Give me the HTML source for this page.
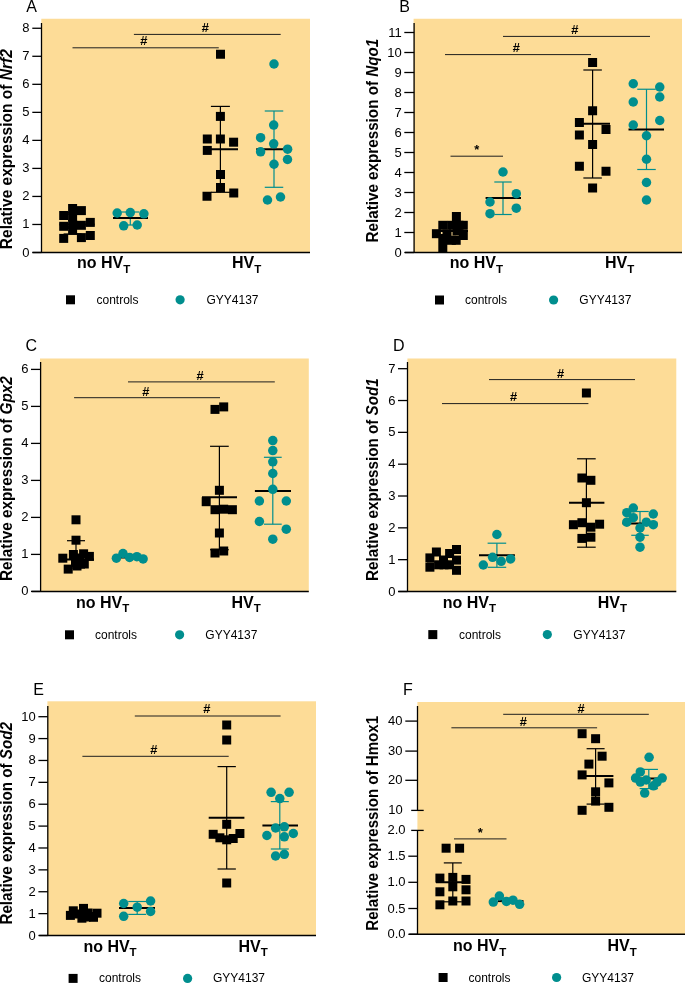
<!DOCTYPE html>
<html><head><meta charset="utf-8"><style>
html,body{margin:0;padding:0;background:#fff;}
svg{display:block;}
svg{will-change:transform;}
</style></head><body>
<svg width="685" height="983" viewBox="0 0 685 983">
<text x="26.30" y="11.70" font-family="Liberation Sans" font-size="16" text-anchor="start" font-weight="normal" font-style="normal" >A</text>
<rect x="41.30" y="18.75" width="268.70" height="233.75" fill="#FDDC97"/>
<line x1="41.50" y1="23.00" x2="41.50" y2="252.50" stroke="#000" stroke-width="1.3"/>
<line x1="32.30" y1="252.50" x2="41.50" y2="252.50" stroke="#000" stroke-width="1.3"/>
<text x="29.60" y="256.50" font-family="Liberation Sans" font-size="13" text-anchor="end" font-weight="normal" font-style="normal" >0</text>
<line x1="32.30" y1="224.47" x2="41.50" y2="224.47" stroke="#000" stroke-width="1.3"/>
<text x="29.60" y="228.47" font-family="Liberation Sans" font-size="13" text-anchor="end" font-weight="normal" font-style="normal" >1</text>
<line x1="32.30" y1="196.44" x2="41.50" y2="196.44" stroke="#000" stroke-width="1.3"/>
<text x="29.60" y="200.44" font-family="Liberation Sans" font-size="13" text-anchor="end" font-weight="normal" font-style="normal" >2</text>
<line x1="32.30" y1="168.41" x2="41.50" y2="168.41" stroke="#000" stroke-width="1.3"/>
<text x="29.60" y="172.41" font-family="Liberation Sans" font-size="13" text-anchor="end" font-weight="normal" font-style="normal" >3</text>
<line x1="32.30" y1="140.38" x2="41.50" y2="140.38" stroke="#000" stroke-width="1.3"/>
<text x="29.60" y="144.38" font-family="Liberation Sans" font-size="13" text-anchor="end" font-weight="normal" font-style="normal" >4</text>
<line x1="32.30" y1="112.35" x2="41.50" y2="112.35" stroke="#000" stroke-width="1.3"/>
<text x="29.60" y="116.35" font-family="Liberation Sans" font-size="13" text-anchor="end" font-weight="normal" font-style="normal" >5</text>
<line x1="32.30" y1="84.32" x2="41.50" y2="84.32" stroke="#000" stroke-width="1.3"/>
<text x="29.60" y="88.32" font-family="Liberation Sans" font-size="13" text-anchor="end" font-weight="normal" font-style="normal" >6</text>
<line x1="32.30" y1="56.29" x2="41.50" y2="56.29" stroke="#000" stroke-width="1.3"/>
<text x="29.60" y="60.29" font-family="Liberation Sans" font-size="13" text-anchor="end" font-weight="normal" font-style="normal" >7</text>
<line x1="32.30" y1="28.26" x2="41.50" y2="28.26" stroke="#000" stroke-width="1.3"/>
<text x="29.60" y="32.26" font-family="Liberation Sans" font-size="13" text-anchor="end" font-weight="normal" font-style="normal" >8</text>
<line x1="32.50" y1="252.50" x2="310.00" y2="252.50" stroke="#000" stroke-width="1.5"/>
<text transform="translate(12.00,149.20) rotate(-90) scale(1,1.06)" font-family="Liberation Sans" font-size="15" font-weight="bold" text-anchor="middle" textLength="200" lengthAdjust="spacingAndGlyphs">Relative expression of <tspan font-style="italic">Nrf2</tspan></text>
<line x1="72.50" y1="47.80" x2="218.75" y2="47.80" stroke="#1e1e1e" stroke-width="1.0"/>
<text x="143.70" y="45.45" font-family="Liberation Sans" font-size="13" text-anchor="middle" font-weight="bold" font-style="italic" >#</text>
<line x1="133.90" y1="34.40" x2="280.70" y2="34.40" stroke="#1e1e1e" stroke-width="1.0"/>
<text x="205.10" y="32.20" font-family="Liberation Sans" font-size="13" text-anchor="middle" font-weight="bold" font-style="italic" >#</text>
<line x1="72.60" y1="214.10" x2="72.60" y2="234.00" stroke="#000" stroke-width="1.2"/>
<line x1="63.60" y1="214.10" x2="81.60" y2="214.10" stroke="#000" stroke-width="1.2"/>
<line x1="63.60" y1="234.00" x2="81.60" y2="234.00" stroke="#000" stroke-width="1.2"/>
<line x1="59.50" y1="224.50" x2="94.50" y2="224.50" stroke="#000" stroke-width="2.0"/>
<rect x="68.10" y="204.00" width="9.00" height="9.00" fill="#000"/>
<rect x="76.90" y="206.10" width="9.00" height="9.00" fill="#000"/>
<rect x="59.20" y="211.00" width="9.00" height="9.00" fill="#000"/>
<rect x="85.80" y="217.90" width="9.00" height="9.00" fill="#000"/>
<rect x="59.20" y="221.80" width="9.00" height="9.00" fill="#000"/>
<rect x="76.90" y="220.80" width="9.00" height="9.00" fill="#000"/>
<rect x="59.20" y="233.90" width="9.00" height="9.00" fill="#000"/>
<rect x="76.90" y="233.10" width="9.00" height="9.00" fill="#000"/>
<rect x="85.80" y="231.00" width="9.00" height="9.00" fill="#000"/>
<rect x="68.10" y="212.00" width="9.00" height="9.00" fill="#000"/>
<rect x="68.10" y="220.00" width="9.00" height="9.00" fill="#000"/>
<rect x="68.10" y="225.90" width="9.00" height="9.00" fill="#000"/>
<line x1="130.30" y1="212.00" x2="130.30" y2="225.00" stroke="#008E8E" stroke-width="1.2"/>
<line x1="121.30" y1="212.00" x2="139.30" y2="212.00" stroke="#008E8E" stroke-width="1.2"/>
<line x1="121.30" y1="225.00" x2="139.30" y2="225.00" stroke="#008E8E" stroke-width="1.2"/>
<line x1="113.00" y1="218.00" x2="148.00" y2="218.00" stroke="#000" stroke-width="2.0"/>
<circle cx="117.20" cy="213.00" r="4.75" fill="#008E8E"/>
<circle cx="130.30" cy="212.60" r="4.75" fill="#008E8E"/>
<circle cx="143.90" cy="213.80" r="4.75" fill="#008E8E"/>
<circle cx="123.70" cy="225.80" r="4.75" fill="#008E8E"/>
<circle cx="137.20" cy="225.00" r="4.75" fill="#008E8E"/>
<line x1="220.40" y1="106.40" x2="220.40" y2="192.30" stroke="#000" stroke-width="1.2"/>
<line x1="210.90" y1="106.40" x2="229.90" y2="106.40" stroke="#000" stroke-width="1.2"/>
<line x1="210.90" y1="192.30" x2="229.90" y2="192.30" stroke="#000" stroke-width="1.2"/>
<line x1="203.00" y1="149.20" x2="238.00" y2="149.20" stroke="#000" stroke-width="2.0"/>
<rect x="216.00" y="49.75" width="9.00" height="9.00" fill="#000"/>
<rect x="215.90" y="111.90" width="9.00" height="9.00" fill="#000"/>
<rect x="202.80" y="134.50" width="9.00" height="9.00" fill="#000"/>
<rect x="215.90" y="134.50" width="9.00" height="9.00" fill="#000"/>
<rect x="229.10" y="137.70" width="9.00" height="9.00" fill="#000"/>
<rect x="202.80" y="145.90" width="9.00" height="9.00" fill="#000"/>
<rect x="216.00" y="170.00" width="9.00" height="9.00" fill="#000"/>
<rect x="216.00" y="183.00" width="9.00" height="9.00" fill="#000"/>
<rect x="202.50" y="191.75" width="9.00" height="9.00" fill="#000"/>
<rect x="229.25" y="188.50" width="9.00" height="9.00" fill="#000"/>
<line x1="274.00" y1="111.00" x2="274.00" y2="187.30" stroke="#008E8E" stroke-width="1.2"/>
<line x1="264.75" y1="111.00" x2="283.25" y2="111.00" stroke="#008E8E" stroke-width="1.2"/>
<line x1="264.75" y1="187.30" x2="283.25" y2="187.30" stroke="#008E8E" stroke-width="1.2"/>
<line x1="256.20" y1="149.20" x2="291.20" y2="149.20" stroke="#000" stroke-width="2.0"/>
<circle cx="274.00" cy="64.00" r="4.75" fill="#008E8E"/>
<circle cx="273.70" cy="125.10" r="4.75" fill="#008E8E"/>
<circle cx="260.60" cy="137.70" r="4.75" fill="#008E8E"/>
<circle cx="273.70" cy="143.80" r="4.75" fill="#008E8E"/>
<circle cx="287.60" cy="149.20" r="4.75" fill="#008E8E"/>
<circle cx="260.60" cy="151.80" r="4.75" fill="#008E8E"/>
<circle cx="287.50" cy="159.50" r="4.75" fill="#008E8E"/>
<circle cx="274.00" cy="164.25" r="4.75" fill="#008E8E"/>
<circle cx="267.50" cy="200.00" r="4.75" fill="#008E8E"/>
<circle cx="280.50" cy="197.00" r="4.75" fill="#008E8E"/>
<text x="77.00" y="268.10" font-family="Liberation Sans" font-size="16" font-weight="bold">no HV<tspan font-size="11.5" dy="4.7">T</tspan></text>
<text x="232.00" y="268.10" font-family="Liberation Sans" font-size="16" font-weight="bold">HV<tspan font-size="11.5" dy="4.7">T</tspan></text>
<rect x="66.00" y="295.30" width="9.00" height="9.00" fill="#000"/>
<text x="96.50" y="303.80" font-family="Liberation Sans" font-size="12" text-anchor="start" font-weight="normal" font-style="normal" >controls</text>
<circle cx="180.10" cy="299.80" r="4.6" fill="#008E8E"/>
<text x="206.50" y="303.80" font-family="Liberation Sans" font-size="12" text-anchor="start" font-weight="normal" font-style="normal" >GYY4137</text>
<text x="399.30" y="11.70" font-family="Liberation Sans" font-size="16" text-anchor="start" font-weight="normal" font-style="normal" >B</text>
<rect x="413.60" y="18.75" width="268.40" height="233.75" fill="#FDDC97"/>
<line x1="414.10" y1="23.00" x2="414.10" y2="252.50" stroke="#000" stroke-width="1.3"/>
<line x1="404.30" y1="252.50" x2="414.10" y2="252.50" stroke="#000" stroke-width="1.3"/>
<text x="401.80" y="256.50" font-family="Liberation Sans" font-size="13" text-anchor="end" font-weight="normal" font-style="normal" >0</text>
<line x1="404.30" y1="232.50" x2="414.10" y2="232.50" stroke="#000" stroke-width="1.3"/>
<text x="401.80" y="236.50" font-family="Liberation Sans" font-size="13" text-anchor="end" font-weight="normal" font-style="normal" >1</text>
<line x1="404.30" y1="212.50" x2="414.10" y2="212.50" stroke="#000" stroke-width="1.3"/>
<text x="401.80" y="216.50" font-family="Liberation Sans" font-size="13" text-anchor="end" font-weight="normal" font-style="normal" >2</text>
<line x1="404.30" y1="192.50" x2="414.10" y2="192.50" stroke="#000" stroke-width="1.3"/>
<text x="401.80" y="196.50" font-family="Liberation Sans" font-size="13" text-anchor="end" font-weight="normal" font-style="normal" >3</text>
<line x1="404.30" y1="172.50" x2="414.10" y2="172.50" stroke="#000" stroke-width="1.3"/>
<text x="401.80" y="176.50" font-family="Liberation Sans" font-size="13" text-anchor="end" font-weight="normal" font-style="normal" >4</text>
<line x1="404.30" y1="152.50" x2="414.10" y2="152.50" stroke="#000" stroke-width="1.3"/>
<text x="401.80" y="156.50" font-family="Liberation Sans" font-size="13" text-anchor="end" font-weight="normal" font-style="normal" >5</text>
<line x1="404.30" y1="132.50" x2="414.10" y2="132.50" stroke="#000" stroke-width="1.3"/>
<text x="401.80" y="136.50" font-family="Liberation Sans" font-size="13" text-anchor="end" font-weight="normal" font-style="normal" >6</text>
<line x1="404.30" y1="112.50" x2="414.10" y2="112.50" stroke="#000" stroke-width="1.3"/>
<text x="401.80" y="116.50" font-family="Liberation Sans" font-size="13" text-anchor="end" font-weight="normal" font-style="normal" >7</text>
<line x1="404.30" y1="92.50" x2="414.10" y2="92.50" stroke="#000" stroke-width="1.3"/>
<text x="401.80" y="96.50" font-family="Liberation Sans" font-size="13" text-anchor="end" font-weight="normal" font-style="normal" >8</text>
<line x1="404.30" y1="72.50" x2="414.10" y2="72.50" stroke="#000" stroke-width="1.3"/>
<text x="401.80" y="76.50" font-family="Liberation Sans" font-size="13" text-anchor="end" font-weight="normal" font-style="normal" >9</text>
<line x1="404.30" y1="52.50" x2="414.10" y2="52.50" stroke="#000" stroke-width="1.3"/>
<text x="401.80" y="56.50" font-family="Liberation Sans" font-size="13" text-anchor="end" font-weight="normal" font-style="normal" >10</text>
<line x1="404.30" y1="32.50" x2="414.10" y2="32.50" stroke="#000" stroke-width="1.3"/>
<text x="401.80" y="36.50" font-family="Liberation Sans" font-size="13" text-anchor="end" font-weight="normal" font-style="normal" >11</text>
<line x1="405.00" y1="252.50" x2="682.00" y2="252.50" stroke="#000" stroke-width="1.5"/>
<text transform="translate(377.80,140.60) rotate(-90) scale(1,1.06)" font-family="Liberation Sans" font-size="15" font-weight="bold" text-anchor="middle" textLength="203.7" lengthAdjust="spacingAndGlyphs">Relative expression of <tspan font-style="italic">Nqo1</tspan></text>
<line x1="445.00" y1="54.60" x2="591.00" y2="54.60" stroke="#1e1e1e" stroke-width="1.0"/>
<text x="516.10" y="52.45" font-family="Liberation Sans" font-size="13" text-anchor="middle" font-weight="bold" font-style="italic" >#</text>
<line x1="503.00" y1="36.40" x2="650.00" y2="36.40" stroke="#1e1e1e" stroke-width="1.0"/>
<text x="574.70" y="33.80" font-family="Liberation Sans" font-size="13" text-anchor="middle" font-weight="bold" font-style="italic" >#</text>
<line x1="450.50" y1="156.20" x2="503.00" y2="156.20" stroke="#1e1e1e" stroke-width="1.0"/>
<text x="476.90" y="154.00" font-family="Liberation Sans" font-size="13" text-anchor="middle" font-weight="bold" font-style="normal" >*</text>
<line x1="450.00" y1="222.00" x2="450.00" y2="240.00" stroke="#000" stroke-width="1.2"/>
<line x1="441.00" y1="222.00" x2="459.00" y2="222.00" stroke="#000" stroke-width="1.2"/>
<line x1="441.00" y1="240.00" x2="459.00" y2="240.00" stroke="#000" stroke-width="1.2"/>
<line x1="433.00" y1="231.00" x2="468.00" y2="231.00" stroke="#000" stroke-width="2.0"/>
<rect x="451.90" y="212.00" width="9.00" height="9.00" fill="#000"/>
<rect x="438.30" y="220.80" width="9.00" height="9.00" fill="#000"/>
<rect x="447.10" y="220.80" width="9.00" height="9.00" fill="#000"/>
<rect x="454.50" y="220.80" width="9.00" height="9.00" fill="#000"/>
<rect x="458.80" y="220.80" width="9.00" height="9.00" fill="#000"/>
<rect x="431.90" y="229.20" width="9.00" height="9.00" fill="#000"/>
<rect x="458.80" y="231.00" width="9.00" height="9.00" fill="#000"/>
<rect x="452.50" y="226.50" width="9.00" height="9.00" fill="#000"/>
<rect x="442.50" y="229.50" width="9.00" height="9.00" fill="#000"/>
<rect x="446.90" y="235.80" width="9.00" height="9.00" fill="#000"/>
<rect x="451.70" y="235.80" width="9.00" height="9.00" fill="#000"/>
<rect x="438.30" y="234.00" width="9.00" height="9.00" fill="#000"/>
<rect x="438.30" y="243.00" width="9.00" height="9.00" fill="#000"/>
<line x1="503.00" y1="182.00" x2="503.00" y2="214.50" stroke="#008E8E" stroke-width="1.2"/>
<line x1="494.30" y1="182.00" x2="511.70" y2="182.00" stroke="#008E8E" stroke-width="1.2"/>
<line x1="494.30" y1="214.50" x2="511.70" y2="214.50" stroke="#008E8E" stroke-width="1.2"/>
<line x1="485.60" y1="198.00" x2="521.00" y2="198.00" stroke="#000" stroke-width="2.0"/>
<circle cx="503.00" cy="172.00" r="4.75" fill="#008E8E"/>
<circle cx="516.30" cy="193.70" r="4.75" fill="#008E8E"/>
<circle cx="490.00" cy="202.00" r="4.75" fill="#008E8E"/>
<circle cx="490.00" cy="213.70" r="4.75" fill="#008E8E"/>
<circle cx="516.30" cy="208.20" r="4.75" fill="#008E8E"/>
<line x1="592.60" y1="70.00" x2="592.60" y2="178.00" stroke="#000" stroke-width="1.2"/>
<line x1="583.35" y1="70.00" x2="601.85" y2="70.00" stroke="#000" stroke-width="1.2"/>
<line x1="583.35" y1="178.00" x2="601.85" y2="178.00" stroke="#000" stroke-width="1.2"/>
<line x1="578.60" y1="123.75" x2="610.00" y2="123.75" stroke="#000" stroke-width="2.0"/>
<rect x="588.10" y="58.00" width="9.00" height="9.00" fill="#000"/>
<rect x="588.10" y="106.25" width="9.00" height="9.00" fill="#000"/>
<rect x="574.90" y="118.00" width="9.00" height="9.00" fill="#000"/>
<rect x="601.50" y="125.00" width="9.00" height="9.00" fill="#000"/>
<rect x="574.90" y="130.50" width="9.00" height="9.00" fill="#000"/>
<rect x="588.10" y="140.00" width="9.00" height="9.00" fill="#000"/>
<rect x="574.90" y="161.75" width="9.00" height="9.00" fill="#000"/>
<rect x="601.50" y="166.75" width="9.00" height="9.00" fill="#000"/>
<rect x="588.10" y="183.50" width="9.00" height="9.00" fill="#000"/>
<line x1="646.50" y1="89.25" x2="646.50" y2="169.50" stroke="#008E8E" stroke-width="1.2"/>
<line x1="637.25" y1="89.25" x2="655.75" y2="89.25" stroke="#008E8E" stroke-width="1.2"/>
<line x1="637.25" y1="169.50" x2="655.75" y2="169.50" stroke="#008E8E" stroke-width="1.2"/>
<line x1="628.50" y1="129.50" x2="664.00" y2="129.50" stroke="#000" stroke-width="2.0"/>
<circle cx="633.25" cy="83.75" r="4.75" fill="#008E8E"/>
<circle cx="659.75" cy="87.00" r="4.75" fill="#008E8E"/>
<circle cx="659.75" cy="97.00" r="4.75" fill="#008E8E"/>
<circle cx="633.25" cy="102.00" r="4.75" fill="#008E8E"/>
<circle cx="659.75" cy="120.50" r="4.75" fill="#008E8E"/>
<circle cx="633.25" cy="125.00" r="4.75" fill="#008E8E"/>
<circle cx="646.50" cy="135.75" r="4.75" fill="#008E8E"/>
<circle cx="646.50" cy="159.25" r="4.75" fill="#008E8E"/>
<circle cx="646.50" cy="182.50" r="4.75" fill="#008E8E"/>
<circle cx="646.50" cy="200.00" r="4.75" fill="#008E8E"/>
<text x="449.70" y="268.10" font-family="Liberation Sans" font-size="16" font-weight="bold">no HV<tspan font-size="11.5" dy="4.7">T</tspan></text>
<text x="605.00" y="268.10" font-family="Liberation Sans" font-size="16" font-weight="bold">HV<tspan font-size="11.5" dy="4.7">T</tspan></text>
<rect x="435.00" y="295.50" width="9.00" height="9.00" fill="#000"/>
<text x="465.00" y="304.00" font-family="Liberation Sans" font-size="12" text-anchor="start" font-weight="normal" font-style="normal" >controls</text>
<circle cx="553.60" cy="300.00" r="4.6" fill="#008E8E"/>
<text x="579.30" y="304.00" font-family="Liberation Sans" font-size="12" text-anchor="start" font-weight="normal" font-style="normal" >GYY4137</text>
<text x="25.60" y="351.00" font-family="Liberation Sans" font-size="16" text-anchor="start" font-weight="normal" font-style="normal" >C</text>
<rect x="40.00" y="358.50" width="268.80" height="233.00" fill="#FDDC97"/>
<line x1="40.60" y1="362.00" x2="40.60" y2="591.40" stroke="#000" stroke-width="1.3"/>
<line x1="31.00" y1="591.40" x2="40.60" y2="591.40" stroke="#000" stroke-width="1.3"/>
<text x="28.60" y="595.40" font-family="Liberation Sans" font-size="13" text-anchor="end" font-weight="normal" font-style="normal" >0</text>
<line x1="31.00" y1="554.40" x2="40.60" y2="554.40" stroke="#000" stroke-width="1.3"/>
<text x="28.60" y="558.40" font-family="Liberation Sans" font-size="13" text-anchor="end" font-weight="normal" font-style="normal" >1</text>
<line x1="31.00" y1="517.40" x2="40.60" y2="517.40" stroke="#000" stroke-width="1.3"/>
<text x="28.60" y="521.40" font-family="Liberation Sans" font-size="13" text-anchor="end" font-weight="normal" font-style="normal" >2</text>
<line x1="31.00" y1="480.40" x2="40.60" y2="480.40" stroke="#000" stroke-width="1.3"/>
<text x="28.60" y="484.40" font-family="Liberation Sans" font-size="13" text-anchor="end" font-weight="normal" font-style="normal" >3</text>
<line x1="31.00" y1="443.40" x2="40.60" y2="443.40" stroke="#000" stroke-width="1.3"/>
<text x="28.60" y="447.40" font-family="Liberation Sans" font-size="13" text-anchor="end" font-weight="normal" font-style="normal" >4</text>
<line x1="31.00" y1="406.40" x2="40.60" y2="406.40" stroke="#000" stroke-width="1.3"/>
<text x="28.60" y="410.40" font-family="Liberation Sans" font-size="13" text-anchor="end" font-weight="normal" font-style="normal" >5</text>
<line x1="31.00" y1="369.40" x2="40.60" y2="369.40" stroke="#000" stroke-width="1.3"/>
<text x="28.60" y="373.40" font-family="Liberation Sans" font-size="13" text-anchor="end" font-weight="normal" font-style="normal" >6</text>
<line x1="31.70" y1="591.40" x2="308.80" y2="591.40" stroke="#000" stroke-width="1.5"/>
<text transform="translate(12.00,478.60) rotate(-90) scale(1,1.06)" font-family="Liberation Sans" font-size="15" font-weight="bold" text-anchor="middle" textLength="204.8" lengthAdjust="spacingAndGlyphs">Relative expression of <tspan font-style="italic">Gpx2</tspan></text>
<line x1="74.10" y1="397.70" x2="220.00" y2="397.70" stroke="#1e1e1e" stroke-width="1.0"/>
<text x="145.50" y="395.70" font-family="Liberation Sans" font-size="13" text-anchor="middle" font-weight="bold" font-style="italic" >#</text>
<line x1="128.00" y1="381.90" x2="274.80" y2="381.90" stroke="#1e1e1e" stroke-width="1.0"/>
<text x="199.80" y="379.60" font-family="Liberation Sans" font-size="13" text-anchor="middle" font-weight="bold" font-style="italic" >#</text>
<line x1="76.00" y1="540.70" x2="76.00" y2="568.00" stroke="#000" stroke-width="1.2"/>
<line x1="67.00" y1="540.70" x2="85.00" y2="540.70" stroke="#000" stroke-width="1.2"/>
<line x1="67.00" y1="568.00" x2="85.00" y2="568.00" stroke="#000" stroke-width="1.2"/>
<line x1="59.00" y1="559.60" x2="94.00" y2="559.60" stroke="#000" stroke-width="2.0"/>
<rect x="71.50" y="515.30" width="9.00" height="9.00" fill="#000"/>
<rect x="71.50" y="535.70" width="9.00" height="9.00" fill="#000"/>
<rect x="58.30" y="553.70" width="9.00" height="9.00" fill="#000"/>
<rect x="68.90" y="550.00" width="9.00" height="9.00" fill="#000"/>
<rect x="79.10" y="549.30" width="9.00" height="9.00" fill="#000"/>
<rect x="84.90" y="551.90" width="9.00" height="9.00" fill="#000"/>
<rect x="71.00" y="558.10" width="9.00" height="9.00" fill="#000"/>
<rect x="79.80" y="559.50" width="9.00" height="9.00" fill="#000"/>
<rect x="63.70" y="564.60" width="9.00" height="9.00" fill="#000"/>
<rect x="74.50" y="553.50" width="9.00" height="9.00" fill="#000"/>
<rect x="75.50" y="556.50" width="9.00" height="9.00" fill="#000"/>
<rect x="72.50" y="561.50" width="9.00" height="9.00" fill="#000"/>
<line x1="117.00" y1="557.50" x2="143.00" y2="557.50" stroke="#000" stroke-width="2.0"/>
<circle cx="116.40" cy="558.20" r="4.75" fill="#008E8E"/>
<circle cx="123.00" cy="553.50" r="4.75" fill="#008E8E"/>
<circle cx="129.60" cy="557.40" r="4.75" fill="#008E8E"/>
<circle cx="136.90" cy="556.70" r="4.75" fill="#008E8E"/>
<circle cx="143.10" cy="558.90" r="4.75" fill="#008E8E"/>
<line x1="219.40" y1="446.30" x2="219.40" y2="549.70" stroke="#000" stroke-width="1.2"/>
<line x1="210.05" y1="446.30" x2="228.75" y2="446.30" stroke="#000" stroke-width="1.2"/>
<line x1="210.05" y1="549.70" x2="228.75" y2="549.70" stroke="#000" stroke-width="1.2"/>
<line x1="202.00" y1="497.30" x2="237.00" y2="497.30" stroke="#000" stroke-width="2.0"/>
<rect x="210.50" y="404.90" width="9.00" height="9.00" fill="#000"/>
<rect x="219.20" y="402.40" width="9.00" height="9.00" fill="#000"/>
<rect x="214.90" y="485.80" width="9.00" height="9.00" fill="#000"/>
<rect x="201.70" y="497.20" width="9.00" height="9.00" fill="#000"/>
<rect x="210.50" y="505.20" width="9.00" height="9.00" fill="#000"/>
<rect x="219.20" y="504.70" width="9.00" height="9.00" fill="#000"/>
<rect x="227.90" y="505.20" width="9.00" height="9.00" fill="#000"/>
<rect x="214.90" y="528.50" width="9.00" height="9.00" fill="#000"/>
<rect x="210.50" y="548.50" width="9.00" height="9.00" fill="#000"/>
<rect x="219.20" y="546.50" width="9.00" height="9.00" fill="#000"/>
<line x1="272.80" y1="457.30" x2="272.80" y2="524.20" stroke="#008E8E" stroke-width="1.2"/>
<line x1="263.90" y1="457.30" x2="281.70" y2="457.30" stroke="#008E8E" stroke-width="1.2"/>
<line x1="263.90" y1="524.20" x2="281.70" y2="524.20" stroke="#008E8E" stroke-width="1.2"/>
<line x1="254.90" y1="491.00" x2="291.00" y2="491.00" stroke="#000" stroke-width="2.0"/>
<circle cx="272.80" cy="440.60" r="4.75" fill="#008E8E"/>
<circle cx="272.80" cy="450.60" r="4.75" fill="#008E8E"/>
<circle cx="272.80" cy="461.80" r="4.75" fill="#008E8E"/>
<circle cx="272.80" cy="473.50" r="4.75" fill="#008E8E"/>
<circle cx="272.80" cy="489.30" r="4.75" fill="#008E8E"/>
<circle cx="259.40" cy="501.00" r="4.75" fill="#008E8E"/>
<circle cx="286.30" cy="501.00" r="4.75" fill="#008E8E"/>
<circle cx="259.40" cy="521.50" r="4.75" fill="#008E8E"/>
<circle cx="286.30" cy="529.20" r="4.75" fill="#008E8E"/>
<circle cx="272.80" cy="539.20" r="4.75" fill="#008E8E"/>
<text x="76.00" y="607.60" font-family="Liberation Sans" font-size="16" font-weight="bold">no HV<tspan font-size="11.5" dy="4.7">T</tspan></text>
<text x="231.40" y="607.60" font-family="Liberation Sans" font-size="16" font-weight="bold">HV<tspan font-size="11.5" dy="4.7">T</tspan></text>
<rect x="65.00" y="630.30" width="9.00" height="9.00" fill="#000"/>
<text x="95.00" y="638.80" font-family="Liberation Sans" font-size="12" text-anchor="start" font-weight="normal" font-style="normal" >controls</text>
<circle cx="179.60" cy="634.80" r="4.6" fill="#008E8E"/>
<text x="205.30" y="638.80" font-family="Liberation Sans" font-size="12" text-anchor="start" font-weight="normal" font-style="normal" >GYY4137</text>
<text x="393.00" y="351.00" font-family="Liberation Sans" font-size="16" text-anchor="start" font-weight="normal" font-style="normal" >D</text>
<rect x="407.40" y="358.50" width="268.90" height="233.00" fill="#FDDC97"/>
<line x1="407.50" y1="362.00" x2="407.50" y2="591.50" stroke="#000" stroke-width="1.3"/>
<line x1="398.00" y1="591.50" x2="407.50" y2="591.50" stroke="#000" stroke-width="1.3"/>
<text x="395.50" y="595.50" font-family="Liberation Sans" font-size="13" text-anchor="end" font-weight="normal" font-style="normal" >0</text>
<line x1="398.00" y1="559.67" x2="407.50" y2="559.67" stroke="#000" stroke-width="1.3"/>
<text x="395.50" y="563.67" font-family="Liberation Sans" font-size="13" text-anchor="end" font-weight="normal" font-style="normal" >1</text>
<line x1="398.00" y1="527.84" x2="407.50" y2="527.84" stroke="#000" stroke-width="1.3"/>
<text x="395.50" y="531.84" font-family="Liberation Sans" font-size="13" text-anchor="end" font-weight="normal" font-style="normal" >2</text>
<line x1="398.00" y1="496.01" x2="407.50" y2="496.01" stroke="#000" stroke-width="1.3"/>
<text x="395.50" y="500.01" font-family="Liberation Sans" font-size="13" text-anchor="end" font-weight="normal" font-style="normal" >3</text>
<line x1="398.00" y1="464.18" x2="407.50" y2="464.18" stroke="#000" stroke-width="1.3"/>
<text x="395.50" y="468.18" font-family="Liberation Sans" font-size="13" text-anchor="end" font-weight="normal" font-style="normal" >4</text>
<line x1="398.00" y1="432.35" x2="407.50" y2="432.35" stroke="#000" stroke-width="1.3"/>
<text x="395.50" y="436.35" font-family="Liberation Sans" font-size="13" text-anchor="end" font-weight="normal" font-style="normal" >5</text>
<line x1="398.00" y1="400.52" x2="407.50" y2="400.52" stroke="#000" stroke-width="1.3"/>
<text x="395.50" y="404.52" font-family="Liberation Sans" font-size="13" text-anchor="end" font-weight="normal" font-style="normal" >6</text>
<line x1="398.00" y1="368.69" x2="407.50" y2="368.69" stroke="#000" stroke-width="1.3"/>
<text x="395.50" y="372.69" font-family="Liberation Sans" font-size="13" text-anchor="end" font-weight="normal" font-style="normal" >7</text>
<line x1="398.40" y1="591.50" x2="676.30" y2="591.50" stroke="#000" stroke-width="1.5"/>
<text transform="translate(377.80,479.60) rotate(-90) scale(1,1.06)" font-family="Liberation Sans" font-size="15" font-weight="bold" text-anchor="middle" textLength="202.7" lengthAdjust="spacingAndGlyphs">Relative expression of <tspan font-style="italic">Sod1</tspan></text>
<line x1="442.00" y1="403.60" x2="588.40" y2="403.60" stroke="#1e1e1e" stroke-width="1.0"/>
<text x="513.30" y="401.40" font-family="Liberation Sans" font-size="13" text-anchor="middle" font-weight="bold" font-style="italic" >#</text>
<line x1="489.00" y1="379.60" x2="635.00" y2="379.60" stroke="#1e1e1e" stroke-width="1.0"/>
<text x="560.40" y="377.50" font-family="Liberation Sans" font-size="13" text-anchor="middle" font-weight="bold" font-style="italic" >#</text>
<line x1="427.00" y1="562.00" x2="461.00" y2="562.00" stroke="#000" stroke-width="1.2"/>
<rect x="452.00" y="545.00" width="9.00" height="9.00" fill="#000"/>
<rect x="452.00" y="555.60" width="9.00" height="9.00" fill="#000"/>
<rect x="452.00" y="565.80" width="9.00" height="9.00" fill="#000"/>
<rect x="425.40" y="553.40" width="9.00" height="9.00" fill="#000"/>
<rect x="425.40" y="562.70" width="9.00" height="9.00" fill="#000"/>
<rect x="431.90" y="547.50" width="9.00" height="9.00" fill="#000"/>
<rect x="445.10" y="549.00" width="9.00" height="9.00" fill="#000"/>
<rect x="439.00" y="555.50" width="9.00" height="9.00" fill="#000"/>
<rect x="434.10" y="560.30" width="9.00" height="9.00" fill="#000"/>
<rect x="439.50" y="560.30" width="9.00" height="9.00" fill="#000"/>
<rect x="445.00" y="560.30" width="9.00" height="9.00" fill="#000"/>
<line x1="496.90" y1="543.20" x2="496.90" y2="567.30" stroke="#008E8E" stroke-width="1.2"/>
<line x1="487.60" y1="543.20" x2="506.20" y2="543.20" stroke="#008E8E" stroke-width="1.2"/>
<line x1="487.60" y1="567.30" x2="506.20" y2="567.30" stroke="#008E8E" stroke-width="1.2"/>
<line x1="479.00" y1="555.20" x2="514.90" y2="555.20" stroke="#000" stroke-width="2.0"/>
<circle cx="496.90" cy="534.50" r="4.75" fill="#008E8E"/>
<circle cx="492.60" cy="557.30" r="4.75" fill="#008E8E"/>
<circle cx="501.20" cy="561.30" r="4.75" fill="#008E8E"/>
<circle cx="510.60" cy="558.90" r="4.75" fill="#008E8E"/>
<circle cx="483.30" cy="565.00" r="4.75" fill="#008E8E"/>
<line x1="586.40" y1="458.80" x2="586.40" y2="547.20" stroke="#000" stroke-width="1.2"/>
<line x1="577.10" y1="458.80" x2="595.70" y2="458.80" stroke="#000" stroke-width="1.2"/>
<line x1="577.10" y1="547.20" x2="595.70" y2="547.20" stroke="#000" stroke-width="1.2"/>
<line x1="569.00" y1="502.70" x2="604.40" y2="502.70" stroke="#000" stroke-width="2.0"/>
<rect x="581.90" y="388.50" width="9.00" height="9.00" fill="#000"/>
<rect x="577.40" y="473.50" width="9.00" height="9.00" fill="#000"/>
<rect x="586.40" y="475.80" width="9.00" height="9.00" fill="#000"/>
<rect x="581.90" y="498.20" width="9.00" height="9.00" fill="#000"/>
<rect x="568.90" y="520.20" width="9.00" height="9.00" fill="#000"/>
<rect x="577.40" y="518.20" width="9.00" height="9.00" fill="#000"/>
<rect x="586.40" y="522.70" width="9.00" height="9.00" fill="#000"/>
<rect x="595.10" y="519.70" width="9.00" height="9.00" fill="#000"/>
<rect x="577.40" y="533.90" width="9.00" height="9.00" fill="#000"/>
<rect x="586.40" y="532.70" width="9.00" height="9.00" fill="#000"/>
<line x1="640.00" y1="511.50" x2="640.00" y2="535.30" stroke="#008E8E" stroke-width="1.2"/>
<line x1="631.25" y1="511.50" x2="648.75" y2="511.50" stroke="#008E8E" stroke-width="1.2"/>
<line x1="631.25" y1="535.30" x2="648.75" y2="535.30" stroke="#008E8E" stroke-width="1.2"/>
<line x1="622.50" y1="523.50" x2="657.50" y2="523.50" stroke="#000" stroke-width="2.0"/>
<circle cx="626.80" cy="512.70" r="4.75" fill="#008E8E"/>
<circle cx="633.30" cy="508.00" r="4.75" fill="#008E8E"/>
<circle cx="633.30" cy="517.70" r="4.75" fill="#008E8E"/>
<circle cx="653.30" cy="514.00" r="4.75" fill="#008E8E"/>
<circle cx="626.80" cy="522.20" r="4.75" fill="#008E8E"/>
<circle cx="646.30" cy="522.20" r="4.75" fill="#008E8E"/>
<circle cx="653.30" cy="524.70" r="4.75" fill="#008E8E"/>
<circle cx="640.00" cy="528.00" r="4.75" fill="#008E8E"/>
<circle cx="640.00" cy="537.20" r="4.75" fill="#008E8E"/>
<circle cx="640.00" cy="547.20" r="4.75" fill="#008E8E"/>
<text x="442.70" y="607.60" font-family="Liberation Sans" font-size="16" font-weight="bold">no HV<tspan font-size="11.5" dy="4.7">T</tspan></text>
<text x="597.80" y="607.60" font-family="Liberation Sans" font-size="16" font-weight="bold">HV<tspan font-size="11.5" dy="4.7">T</tspan></text>
<rect x="428.30" y="630.10" width="9.00" height="9.00" fill="#000"/>
<text x="459.00" y="638.60" font-family="Liberation Sans" font-size="12" text-anchor="start" font-weight="normal" font-style="normal" >controls</text>
<circle cx="547.30" cy="634.60" r="4.6" fill="#008E8E"/>
<text x="573.30" y="638.60" font-family="Liberation Sans" font-size="12" text-anchor="start" font-weight="normal" font-style="normal" >GYY4137</text>
<text x="33.30" y="695.00" font-family="Liberation Sans" font-size="16" text-anchor="start" font-weight="normal" font-style="normal" >E</text>
<rect x="47.40" y="701.30" width="268.60" height="234.20" fill="#FDDC97"/>
<line x1="47.80" y1="706.00" x2="47.80" y2="935.50" stroke="#000" stroke-width="1.3"/>
<line x1="38.40" y1="935.50" x2="47.80" y2="935.50" stroke="#000" stroke-width="1.3"/>
<text x="35.70" y="939.50" font-family="Liberation Sans" font-size="13" text-anchor="end" font-weight="normal" font-style="normal" >0</text>
<line x1="38.40" y1="913.62" x2="47.80" y2="913.62" stroke="#000" stroke-width="1.3"/>
<text x="35.70" y="917.62" font-family="Liberation Sans" font-size="13" text-anchor="end" font-weight="normal" font-style="normal" >1</text>
<line x1="38.40" y1="891.74" x2="47.80" y2="891.74" stroke="#000" stroke-width="1.3"/>
<text x="35.70" y="895.74" font-family="Liberation Sans" font-size="13" text-anchor="end" font-weight="normal" font-style="normal" >2</text>
<line x1="38.40" y1="869.86" x2="47.80" y2="869.86" stroke="#000" stroke-width="1.3"/>
<text x="35.70" y="873.86" font-family="Liberation Sans" font-size="13" text-anchor="end" font-weight="normal" font-style="normal" >3</text>
<line x1="38.40" y1="847.98" x2="47.80" y2="847.98" stroke="#000" stroke-width="1.3"/>
<text x="35.70" y="851.98" font-family="Liberation Sans" font-size="13" text-anchor="end" font-weight="normal" font-style="normal" >4</text>
<line x1="38.40" y1="826.10" x2="47.80" y2="826.10" stroke="#000" stroke-width="1.3"/>
<text x="35.70" y="830.10" font-family="Liberation Sans" font-size="13" text-anchor="end" font-weight="normal" font-style="normal" >5</text>
<line x1="38.40" y1="804.22" x2="47.80" y2="804.22" stroke="#000" stroke-width="1.3"/>
<text x="35.70" y="808.22" font-family="Liberation Sans" font-size="13" text-anchor="end" font-weight="normal" font-style="normal" >6</text>
<line x1="38.40" y1="782.34" x2="47.80" y2="782.34" stroke="#000" stroke-width="1.3"/>
<text x="35.70" y="786.34" font-family="Liberation Sans" font-size="13" text-anchor="end" font-weight="normal" font-style="normal" >7</text>
<line x1="38.40" y1="760.46" x2="47.80" y2="760.46" stroke="#000" stroke-width="1.3"/>
<text x="35.70" y="764.46" font-family="Liberation Sans" font-size="13" text-anchor="end" font-weight="normal" font-style="normal" >8</text>
<line x1="38.40" y1="738.58" x2="47.80" y2="738.58" stroke="#000" stroke-width="1.3"/>
<text x="35.70" y="742.58" font-family="Liberation Sans" font-size="13" text-anchor="end" font-weight="normal" font-style="normal" >9</text>
<line x1="38.40" y1="716.70" x2="47.80" y2="716.70" stroke="#000" stroke-width="1.3"/>
<text x="35.70" y="720.70" font-family="Liberation Sans" font-size="13" text-anchor="end" font-weight="normal" font-style="normal" >10</text>
<line x1="39.20" y1="935.50" x2="316.00" y2="935.50" stroke="#000" stroke-width="1.5"/>
<text transform="translate(12.00,823.30) rotate(-90) scale(1,1.06)" font-family="Liberation Sans" font-size="15" font-weight="bold" text-anchor="middle" textLength="202.6" lengthAdjust="spacingAndGlyphs">Relative expression of <tspan font-style="italic">Sod2</tspan></text>
<line x1="82.40" y1="756.30" x2="228.70" y2="756.30" stroke="#1e1e1e" stroke-width="1.0"/>
<text x="153.70" y="753.50" font-family="Liberation Sans" font-size="13" text-anchor="middle" font-weight="bold" font-style="italic" >#</text>
<line x1="134.80" y1="716.00" x2="280.60" y2="716.00" stroke="#1e1e1e" stroke-width="1.0"/>
<text x="206.70" y="713.10" font-family="Liberation Sans" font-size="13" text-anchor="middle" font-weight="bold" font-style="italic" >#</text>
<line x1="68.00" y1="913.00" x2="100.00" y2="913.00" stroke="#000" stroke-width="2.0"/>
<rect x="65.90" y="910.90" width="9.00" height="9.00" fill="#000"/>
<rect x="68.80" y="906.30" width="9.00" height="9.00" fill="#000"/>
<rect x="79.00" y="903.90" width="9.00" height="9.00" fill="#000"/>
<rect x="77.40" y="913.70" width="9.00" height="9.00" fill="#000"/>
<rect x="92.50" y="908.70" width="9.00" height="9.00" fill="#000"/>
<rect x="89.00" y="912.80" width="9.00" height="9.00" fill="#000"/>
<rect x="72.50" y="909.50" width="9.00" height="9.00" fill="#000"/>
<rect x="83.50" y="908.50" width="9.00" height="9.00" fill="#000"/>
<rect x="81.50" y="912.50" width="9.00" height="9.00" fill="#000"/>
<line x1="137.20" y1="901.50" x2="137.20" y2="914.40" stroke="#008E8E" stroke-width="1.2"/>
<line x1="128.20" y1="901.50" x2="146.20" y2="901.50" stroke="#008E8E" stroke-width="1.2"/>
<line x1="128.20" y1="914.40" x2="146.20" y2="914.40" stroke="#008E8E" stroke-width="1.2"/>
<line x1="119.00" y1="908.00" x2="155.00" y2="908.00" stroke="#000" stroke-width="2.0"/>
<circle cx="123.70" cy="903.50" r="4.75" fill="#008E8E"/>
<circle cx="150.60" cy="901.00" r="4.75" fill="#008E8E"/>
<circle cx="137.20" cy="907.20" r="4.75" fill="#008E8E"/>
<circle cx="150.60" cy="911.50" r="4.75" fill="#008E8E"/>
<circle cx="123.70" cy="916.30" r="4.75" fill="#008E8E"/>
<line x1="226.70" y1="766.60" x2="226.70" y2="869.00" stroke="#000" stroke-width="1.2"/>
<line x1="217.55" y1="766.60" x2="235.85" y2="766.60" stroke="#000" stroke-width="1.2"/>
<line x1="217.55" y1="869.00" x2="235.85" y2="869.00" stroke="#000" stroke-width="1.2"/>
<line x1="208.70" y1="817.80" x2="244.40" y2="817.80" stroke="#000" stroke-width="2.0"/>
<rect x="222.20" y="720.50" width="9.00" height="9.00" fill="#000"/>
<rect x="222.20" y="735.50" width="9.00" height="9.00" fill="#000"/>
<rect x="222.20" y="819.80" width="9.00" height="9.00" fill="#000"/>
<rect x="208.70" y="829.80" width="9.00" height="9.00" fill="#000"/>
<rect x="235.40" y="829.00" width="9.00" height="9.00" fill="#000"/>
<rect x="215.40" y="833.30" width="9.00" height="9.00" fill="#000"/>
<rect x="222.20" y="835.30" width="9.00" height="9.00" fill="#000"/>
<rect x="228.70" y="834.00" width="9.00" height="9.00" fill="#000"/>
<rect x="222.20" y="878.50" width="9.00" height="9.00" fill="#000"/>
<line x1="279.80" y1="801.60" x2="279.80" y2="849.00" stroke="#008E8E" stroke-width="1.2"/>
<line x1="270.80" y1="801.60" x2="288.80" y2="801.60" stroke="#008E8E" stroke-width="1.2"/>
<line x1="270.80" y1="849.00" x2="288.80" y2="849.00" stroke="#008E8E" stroke-width="1.2"/>
<line x1="262.40" y1="825.50" x2="298.00" y2="825.50" stroke="#000" stroke-width="2.0"/>
<circle cx="271.10" cy="792.30" r="4.75" fill="#008E8E"/>
<circle cx="289.10" cy="792.30" r="4.75" fill="#008E8E"/>
<circle cx="279.80" cy="798.60" r="4.75" fill="#008E8E"/>
<circle cx="275.60" cy="828.00" r="4.75" fill="#008E8E"/>
<circle cx="284.30" cy="826.80" r="4.75" fill="#008E8E"/>
<circle cx="266.90" cy="835.50" r="4.75" fill="#008E8E"/>
<circle cx="284.30" cy="836.80" r="4.75" fill="#008E8E"/>
<circle cx="293.30" cy="833.50" r="4.75" fill="#008E8E"/>
<circle cx="275.60" cy="856.00" r="4.75" fill="#008E8E"/>
<circle cx="284.30" cy="854.30" r="4.75" fill="#008E8E"/>
<text x="83.40" y="951.50" font-family="Liberation Sans" font-size="16" font-weight="bold">no HV<tspan font-size="11.5" dy="4.7">T</tspan></text>
<text x="238.40" y="951.50" font-family="Liberation Sans" font-size="16" font-weight="bold">HV<tspan font-size="11.5" dy="4.7">T</tspan></text>
<rect x="68.60" y="973.90" width="9.00" height="9.00" fill="#000"/>
<text x="99.00" y="982.40" font-family="Liberation Sans" font-size="12" text-anchor="start" font-weight="normal" font-style="normal" >controls</text>
<circle cx="187.60" cy="978.40" r="4.6" fill="#008E8E"/>
<text x="213.00" y="982.40" font-family="Liberation Sans" font-size="12" text-anchor="start" font-weight="normal" font-style="normal" >GYY4137</text>
<text x="403.00" y="695.00" font-family="Liberation Sans" font-size="16" text-anchor="start" font-weight="normal" font-style="normal" >F</text>
<rect x="417.40" y="702.00" width="267.60" height="232.30" fill="#FDDC97"/>
<line x1="417.50" y1="706.00" x2="417.50" y2="810.40" stroke="#000" stroke-width="1.3"/>
<line x1="417.50" y1="830.40" x2="417.50" y2="934.30" stroke="#000" stroke-width="1.3"/>
<line x1="405.30" y1="721.10" x2="417.50" y2="721.10" stroke="#000" stroke-width="1.3"/>
<text x="402.50" y="725.10" font-family="Liberation Sans" font-size="13" text-anchor="end" font-weight="normal" font-style="normal" >40</text>
<line x1="405.30" y1="751.10" x2="417.50" y2="751.10" stroke="#000" stroke-width="1.3"/>
<text x="402.50" y="755.10" font-family="Liberation Sans" font-size="13" text-anchor="end" font-weight="normal" font-style="normal" >30</text>
<line x1="405.30" y1="780.30" x2="417.50" y2="780.30" stroke="#000" stroke-width="1.3"/>
<text x="402.50" y="784.30" font-family="Liberation Sans" font-size="13" text-anchor="end" font-weight="normal" font-style="normal" >20</text>
<line x1="411.20" y1="810.40" x2="423.70" y2="810.40" stroke="#000" stroke-width="1.3"/>
<text x="402.80" y="814.40" font-family="Liberation Sans" font-size="13" text-anchor="end" font-weight="normal" font-style="normal" >10</text>
<line x1="411.20" y1="830.40" x2="423.70" y2="830.40" stroke="#000" stroke-width="1.3"/>
<text x="405.60" y="834.40" font-family="Liberation Sans" font-size="13" text-anchor="end" font-weight="normal" font-style="normal" >2.0</text>
<line x1="408.30" y1="856.20" x2="417.50" y2="856.20" stroke="#000" stroke-width="1.3"/>
<text x="405.60" y="860.20" font-family="Liberation Sans" font-size="13" text-anchor="end" font-weight="normal" font-style="normal" >1.5</text>
<line x1="408.30" y1="882.30" x2="417.50" y2="882.30" stroke="#000" stroke-width="1.3"/>
<text x="405.60" y="886.30" font-family="Liberation Sans" font-size="13" text-anchor="end" font-weight="normal" font-style="normal" >1.0</text>
<line x1="408.30" y1="908.50" x2="417.50" y2="908.50" stroke="#000" stroke-width="1.3"/>
<text x="405.60" y="912.50" font-family="Liberation Sans" font-size="13" text-anchor="end" font-weight="normal" font-style="normal" >0.5</text>
<line x1="408.30" y1="934.30" x2="417.50" y2="934.30" stroke="#000" stroke-width="1.3"/>
<text x="405.60" y="938.30" font-family="Liberation Sans" font-size="13" text-anchor="end" font-weight="normal" font-style="normal" >0.0</text>
<line x1="409.20" y1="934.30" x2="685.00" y2="934.30" stroke="#000" stroke-width="1.5"/>
<text transform="translate(377.80,823.30) rotate(-90) scale(1,1.06)" font-family="Liberation Sans" font-size="15" font-weight="bold" text-anchor="middle" textLength="214.8" lengthAdjust="spacingAndGlyphs">Relative expression of <tspan font-style="normal">Hmox1</tspan></text>
<line x1="454.00" y1="838.90" x2="506.50" y2="838.90" stroke="#1e1e1e" stroke-width="1.0"/>
<text x="480.35" y="837.10" font-family="Liberation Sans" font-size="13" text-anchor="middle" font-weight="bold" font-style="normal" >*</text>
<line x1="451.40" y1="727.80" x2="597.10" y2="727.80" stroke="#1e1e1e" stroke-width="1.0"/>
<text x="523.10" y="725.70" font-family="Liberation Sans" font-size="13" text-anchor="middle" font-weight="bold" font-style="italic" >#</text>
<line x1="503.20" y1="714.30" x2="648.80" y2="714.30" stroke="#1e1e1e" stroke-width="1.0"/>
<text x="580.90" y="712.70" font-family="Liberation Sans" font-size="13" text-anchor="middle" font-weight="bold" font-style="italic" >#</text>
<line x1="452.80" y1="862.90" x2="452.80" y2="901.80" stroke="#000" stroke-width="1.2"/>
<line x1="443.80" y1="862.90" x2="461.80" y2="862.90" stroke="#000" stroke-width="1.2"/>
<line x1="443.80" y1="901.80" x2="461.80" y2="901.80" stroke="#000" stroke-width="1.2"/>
<line x1="436.00" y1="882.30" x2="470.00" y2="882.30" stroke="#000" stroke-width="2.0"/>
<rect x="441.60" y="843.70" width="9.00" height="9.00" fill="#000"/>
<rect x="455.10" y="843.70" width="9.00" height="9.00" fill="#000"/>
<rect x="435.40" y="873.60" width="9.00" height="9.00" fill="#000"/>
<rect x="448.30" y="872.90" width="9.00" height="9.00" fill="#000"/>
<rect x="461.50" y="874.90" width="9.00" height="9.00" fill="#000"/>
<rect x="448.30" y="882.30" width="9.00" height="9.00" fill="#000"/>
<rect x="435.40" y="887.30" width="9.00" height="9.00" fill="#000"/>
<rect x="461.50" y="885.30" width="9.00" height="9.00" fill="#000"/>
<rect x="448.30" y="896.50" width="9.00" height="9.00" fill="#000"/>
<rect x="461.50" y="896.50" width="9.00" height="9.00" fill="#000"/>
<rect x="435.40" y="900.30" width="9.00" height="9.00" fill="#000"/>
<line x1="498.00" y1="901.10" x2="523.50" y2="901.10" stroke="#000" stroke-width="2.0"/>
<circle cx="493.30" cy="902.10" r="4.75" fill="#008E8E"/>
<circle cx="499.40" cy="896.00" r="4.75" fill="#008E8E"/>
<circle cx="506.40" cy="901.40" r="4.75" fill="#008E8E"/>
<circle cx="513.00" cy="900.20" r="4.75" fill="#008E8E"/>
<circle cx="519.60" cy="904.30" r="4.75" fill="#008E8E"/>
<line x1="595.60" y1="748.70" x2="595.60" y2="804.10" stroke="#000" stroke-width="1.2"/>
<line x1="586.60" y1="748.70" x2="604.60" y2="748.70" stroke="#000" stroke-width="1.2"/>
<line x1="586.60" y1="804.10" x2="604.60" y2="804.10" stroke="#000" stroke-width="1.2"/>
<line x1="578.00" y1="776.10" x2="613.40" y2="776.10" stroke="#000" stroke-width="2.0"/>
<rect x="577.60" y="729.20" width="9.00" height="9.00" fill="#000"/>
<rect x="591.10" y="734.20" width="9.00" height="9.00" fill="#000"/>
<rect x="597.60" y="751.70" width="9.00" height="9.00" fill="#000"/>
<rect x="584.40" y="759.60" width="9.00" height="9.00" fill="#000"/>
<rect x="577.60" y="770.40" width="9.00" height="9.00" fill="#000"/>
<rect x="604.40" y="778.40" width="9.00" height="9.00" fill="#000"/>
<rect x="591.10" y="787.30" width="9.00" height="9.00" fill="#000"/>
<rect x="591.10" y="796.60" width="9.00" height="9.00" fill="#000"/>
<rect x="577.60" y="805.80" width="9.00" height="9.00" fill="#000"/>
<rect x="604.40" y="802.80" width="9.00" height="9.00" fill="#000"/>
<line x1="648.80" y1="769.40" x2="648.80" y2="788.60" stroke="#008E8E" stroke-width="1.2"/>
<line x1="639.65" y1="769.40" x2="657.95" y2="769.40" stroke="#008E8E" stroke-width="1.2"/>
<line x1="639.65" y1="788.60" x2="657.95" y2="788.60" stroke="#008E8E" stroke-width="1.2"/>
<line x1="631.00" y1="778.60" x2="666.00" y2="778.60" stroke="#000" stroke-width="2.0"/>
<circle cx="649.10" cy="757.30" r="4.75" fill="#008E8E"/>
<circle cx="640.30" cy="771.90" r="4.75" fill="#008E8E"/>
<circle cx="635.60" cy="778.10" r="4.75" fill="#008E8E"/>
<circle cx="640.30" cy="782.10" r="4.75" fill="#008E8E"/>
<circle cx="646.20" cy="780.00" r="4.75" fill="#008E8E"/>
<circle cx="653.50" cy="785.80" r="4.75" fill="#008E8E"/>
<circle cx="662.20" cy="778.10" r="4.75" fill="#008E8E"/>
<circle cx="657.10" cy="782.10" r="4.75" fill="#008E8E"/>
<circle cx="644.70" cy="793.10" r="4.75" fill="#008E8E"/>
<text x="453.00" y="951.00" font-family="Liberation Sans" font-size="16" font-weight="bold">no HV<tspan font-size="11.5" dy="4.7">T</tspan></text>
<text x="607.40" y="951.00" font-family="Liberation Sans" font-size="16" font-weight="bold">HV<tspan font-size="11.5" dy="4.7">T</tspan></text>
<rect x="438.60" y="973.00" width="9.00" height="9.00" fill="#000"/>
<text x="468.50" y="981.50" font-family="Liberation Sans" font-size="12" text-anchor="start" font-weight="normal" font-style="normal" >controls</text>
<circle cx="556.60" cy="977.50" r="4.6" fill="#008E8E"/>
<text x="582.00" y="981.50" font-family="Liberation Sans" font-size="12" text-anchor="start" font-weight="normal" font-style="normal" >GYY4137</text>
</svg>
</body></html>
